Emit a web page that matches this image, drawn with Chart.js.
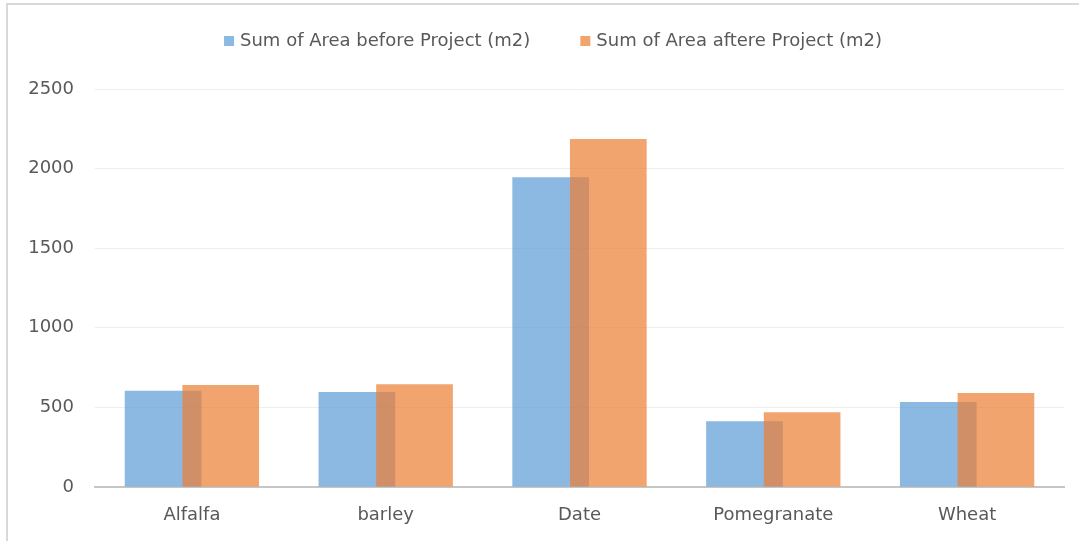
<!DOCTYPE html>
<html>
<head>
<meta charset="utf-8">
<script src="https://cdn.jsdelivr.net/npm/chart.js@4/dist/chart.umd.min.js"></script>
<style>
  html, body { margin: 0; padding: 0; background: #ffffff; }
  #wrap { position: relative; width: 1079px; height: 541px; overflow: hidden; }
  #frame {
    position: absolute; left: 6px; top: 3px; width: 1100px; height: 560px;
    border-top: 2px solid #d9d9d9; border-left: 2px solid #d9d9d9;
  }
  #chart { position: absolute; left: 0; top: 0; }
</style>
</head>
<body>
<div id="wrap">
  <div id="frame"></div>
  <canvas id="chart" width="1079" height="541"></canvas>
</div>
<script>
// Crop areas (m2) before and after the project
const crops = ['Alfalfa', 'barley', 'Date', 'Pomegranate', 'Wheat'];
const areaBefore = [605, 597, 1945, 413, 534];
const areaAfter = [640, 645, 2186, 469, 590];
const seriesNames = ['Sum of Area before Project (m2)', 'Sum of Area aftere Project (m2)'];
const yTicks = [0, 500, 1000, 1500, 2000, 2500];

const FONT = '"DejaVu Sans", sans-serif';
const TEXT = '#595959';

// Paint series in their natural order so the later bars sit on top of the earlier ones
const paintOrder = {
  id: 'paintOrder',
  beforeDatasetsDraw(chart) {
    chart.getSortedVisibleDatasetMetas().forEach(m => m.controller.draw());
    return false;
  }
};

// Legend row centred above the plot
const topLegend = {
  id: 'topLegend',
  afterDraw(chart) {
    const ctx = chart.ctx;
    const box = 10, gapText = 6, gapItem = 50, cy = 41, cx = 553;
    ctx.save();
    ctx.font = '18px ' + FONT;
    const widths = chart.data.datasets.map(d => ctx.measureText(d.label).width);
    const total = widths.reduce((s, w) => s + box + gapText + w, 0) + gapItem * (widths.length - 1);
    let x = cx - total / 2;
    chart.data.datasets.forEach((d, i) => {
      ctx.fillStyle = d.backgroundColor;
      ctx.fillRect(x, cy - box / 2, box, box);
      x += box + gapText;
      ctx.fillStyle = TEXT;
      ctx.textBaseline = 'middle';
      ctx.textAlign = 'left';
      ctx.fillText(d.label, x, cy);
      x += widths[i] + gapItem;
    });
    ctx.restore();
  }
};

new Chart(document.getElementById('chart'), {
  type: 'bar',
  data: {
    labels: crops,
    datasets: [
      { label: seriesNames[0], data: areaBefore, backgroundColor: 'rgba(91,155,213,0.7)' },
      { label: seriesNames[1], data: areaAfter, backgroundColor: 'rgba(237,125,49,0.7)' }
    ]
  },
  options: {
    responsive: false,
    animation: false,
    events: [],
    layout: { padding: { top: 89, right: 15, bottom: 0, left: 0 } },
    datasets: {
      bar: { categoryPercentage: 0.595, barPercentage: 1.33, borderWidth: 0 }
    },
    plugins: {
      legend: { display: false },
      tooltip: { enabled: false }
    },
    scales: {
      x: {
        grid: { display: false, drawTicks: false },
        border: { display: true, color: '#c6c6c6', width: 2 },
        ticks: { color: TEXT, font: { family: FONT, size: 18 }, padding: 18, maxRotation: 0 },
        afterFit(scale) { scale.height = 54; }
      },
      y: {
        min: yTicks[0],
        max: yTicks[yTicks.length - 1],
        afterBuildTicks(scale) { scale.ticks = yTicks.map(v => ({ value: v })); },
        grid: { color: '#eeeeee', lineWidth: 1, drawTicks: false },
        border: { display: false },
        ticks: {
          color: TEXT, font: { family: FONT, size: 18 }, padding: 21,
          callback: v => String(v)
        },
        afterFit(scale) { scale.width = 95; }
      }
    }
  },
  plugins: [paintOrder, topLegend]
});
</script>
</body>
</html>
